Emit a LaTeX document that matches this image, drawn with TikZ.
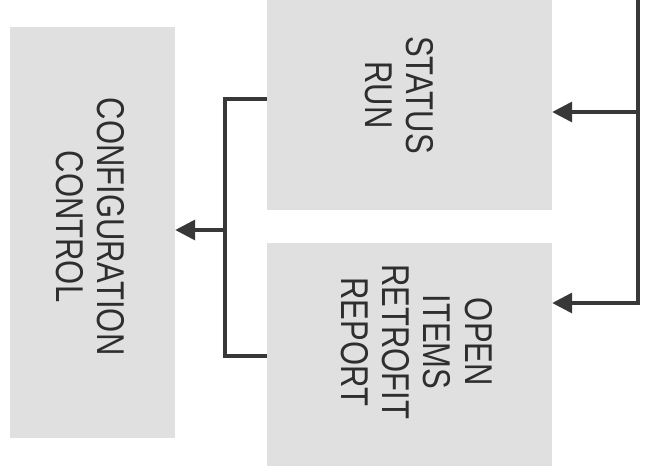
\documentclass[tikz,border=0pt]{standalone}
\usepackage{fontspec}
\setmainfont{Liberation Sans}
\usetikzlibrary{arrows.meta,positioning}

\newcommand{\vlabel}[1]{\rotatebox{-90}{\scalebox{1}[1.25]{\begin{tabular}{@{}c@{}}#1\end{tabular}}}}

\begin{document}
\begin{tikzpicture}[
    x=1pt, y=1pt,
    font=\fontsize{31}{33}\selectfont,
    nodebox/.style={fill=black!12, draw=none, inner sep=0pt},
    textbox/.style={inner sep=0pt, text=black!82},
    line/.style={-{Triangle[length=20pt, width=20pt]}, line width=3.5pt, draw=black!78},
    bar/.style={line width=3.5pt, draw=black!78}
]
    \useasboundingbox (0,0) rectangle (647,-466);

    % Node placement
    \node[nodebox, minimum width=285pt, minimum height=210pt] (status) at (409.5,-105) {};
    \node[nodebox, minimum width=285pt, minimum height=223pt, below=33pt of status] (open) {};
    \node[nodebox, minimum width=165pt, minimum height=411pt] (config) at (92.5,-232.5) {};

    % Labels, set a little off centre as in the drawing
    \node[textbox] (statustext) at ([xshift=-15pt, yshift=10pt]status.center)
        {\vlabel{STATUS\\RUN}};
    \node[textbox] (opentext) at ([xshift=2pt, yshift=13pt]open.center)
        {\vlabel{OPEN\\ITEMS\\RETROFIT\\REPORT}};
    \node[textbox] (configtext) at ([xshift=-7pt, yshift=6pt]config.center)
        {\vlabel{CONFIGURATION\\CONTROL}};

    % Bus on the right
    \coordinate (bustop) at (638,0);
    \coordinate (busmid) at (638,-112);
    \coordinate (busbot) at (638,-303);
    \draw[line] (bustop) -- (busbot) -- (open.east |- busbot);
    \draw[line] (busmid) -- (status.east |- busmid);

    % Bracket to configuration control
    \coordinate (brtop) at (225,-99);
    \coordinate (brmid) at (225,-230);
    \coordinate (brbot) at (225,-356);
    \draw[bar] (status.west |- brtop) -- (brtop) -- (brbot) -- (open.west |- brbot);
    \draw[line] (brmid) -- (config.east |- brmid);

\end{tikzpicture}
\end{document}
